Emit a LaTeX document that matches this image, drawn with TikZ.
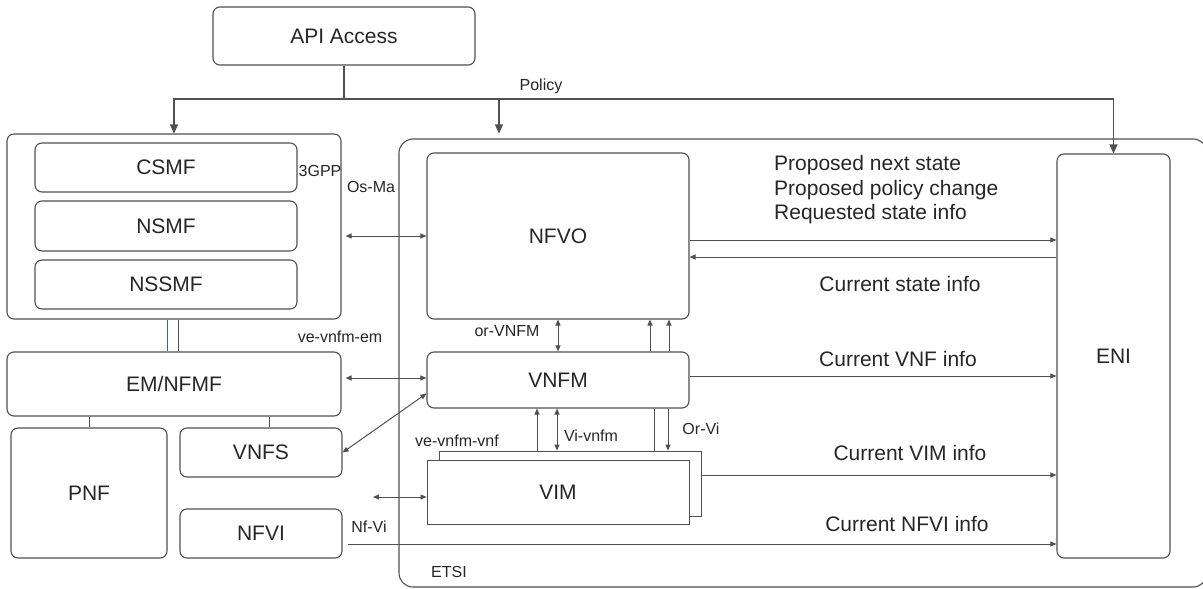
\documentclass[tikz,border=0pt]{standalone}
\usepackage{fontspec}
\setmainfont{Liberation Sans}
\usepackage{tikz}
\usetikzlibrary{arrows.meta,positioning}
\definecolor{linegray}{HTML}{505050}
\definecolor{textgray}{HTML}{262626}
\definecolor{linkblue}{HTML}{2F6EA5}

\begin{document}
\begin{tikzpicture}[
    x=1pt, y=-1pt,
    box/.style={
      draw=linegray, line width=1.1pt, rounded corners=7pt, inner sep=0pt,
      text=textgray, font=\fontsize{21}{25}\selectfont
    },
    flatbox/.style={box, sharp corners, line width=0.8pt, fill=white},
    lbl/.style={inner sep=0pt, text=textgray, font=\fontsize{16}{19}\selectfont},
    info/.style={inner sep=0pt, text=textgray, font=\fontsize{21}{24.5}\selectfont},
    link/.style={draw=linegray, line width=1pt},
    arrow/.style={link, -{Triangle[length=6pt,width=5pt]}},
    biarrow/.style={link, {Triangle[length=6pt,width=5pt]}-{Triangle[length=6pt,width=5pt]}},
    bigarrow/.style={link, line width=1.3pt, -{Triangle[length=9pt,width=8pt]}}
  ]
    \useasboundingbox (0,0) rectangle (1203,589);

    \node[box, minimum width=262pt, minimum height=58pt] (api) at (344,36) {API Access};

    \node[box, minimum width=334pt, minimum height=185pt] (gpp) at (174,226.5) {};
    \node[box, minimum width=262pt, minimum height=49pt] (csmf) at (166,167.5) {CSMF};
    \node[box, minimum width=262pt, minimum height=50pt] (nsmf) at (166,226) {NSMF};
    \node[box, minimum width=262pt, minimum height=49pt] (nssmf) at (166,284.5) {NSSMF};
    \node[box, minimum width=334pt, minimum height=64pt] (em) at (174,384) {EM/NFMF};
    \node[box, minimum width=156pt, minimum height=130pt] (pnf) at (89,493) {PNF};
    \node[box, minimum width=162pt, minimum height=49pt] (vnfs) at (261,452.5) {VNFS};
    \node[box, minimum width=162pt, minimum height=49pt] (nfvi) at (261,533.5) {NFVI};

    \node[box, rounded corners=14pt, minimum width=808pt, minimum height=448pt] (etsi) at (803,363) {};
    \node[box, minimum width=262pt, minimum height=166pt] (nfvo) at (558,236) {NFVO};
    \node[box, minimum width=262pt, minimum height=56pt] (vnfm) at (558,380) {VNFM};
    \node[flatbox, minimum width=262pt, minimum height=65pt] (vimback) at (570,483.5) {};
    \node[flatbox, minimum width=262pt, minimum height=64pt] (vim) at (558,492) {VIM};
    \node[box, minimum width=113pt, minimum height=404pt] (eni) at (1113.5,356) {ENI};

    \node[lbl] (policy) at (541,86) {Policy};
    \node[lbl] (gpplbl) at (320,171) {3GPP};
    \node[lbl] (osma) at (371,187) {Os-Ma};
    \node[lbl] (vevnfmem) at (340,337) {ve-vnfm-em};
    \node[lbl] (orvnfm) at (507,331) {or-VNFM};
    \node[lbl] (vivnfm) at (591,436) {Vi-vnfm};
    \node[lbl] (vevnfmvnf) at (457,441) {ve-vnfm-vnf};
    \node[lbl] (orvi) at (701,429) {Or-Vi};
    \node[lbl] (nfvilbl) at (369,527) {Nf-Vi};
    \node[lbl] (etsilbl) at (449,572) {ETSI};

    \node[info, align=left, anchor=west] (proposed) at (774,190)
      {Proposed next state\\Proposed policy change\\Requested state info};
    \node[info] (curstate) at (900,284) {Current state info};
    \node[info] (curvnf) at (898,359) {Current VNF info};
    \node[info] (curvim) at (910,453) {Current VIM info};
    \node[info] (curnfvi) at (907,524) {Current NFVI info};

    \coordinate (split) at (api.south |- 0,99);
    \coordinate (tap) at (499,99);
    \coordinate (nfvileft) at (373,497);

    \draw[link, line width=1.6pt] (api.south) -- (split);
    \draw[bigarrow] (split) -| (gpp.north);
    \draw[bigarrow] (split) -| (eni.north);
    \draw[bigarrow, shorten >=5pt] (tap) -- (tap |- etsi.north);

    \draw[biarrow, shorten <=4pt] (gpp.east |- nfvo.west) -- (nfvo.west);
    \draw[arrow] ([yshift=-4pt]nfvo.east) -- (eni.west |- 0,240);
    \draw[arrow] (eni.west |- 0,257) -- (nfvo.east |- 0,257);

    \draw[biarrow] (nfvo.south) -- (vnfm.north);
    \draw[arrow] (vnfm.north -| 650,0) -- (nfvo.south -| 650,0);
    \draw[arrow] (vnfm.north -| 669,0) -- (nfvo.south -| 669,0);

    \draw[link, draw=linkblue] (gpp.south -| 167,0) -- (em.north -| 167,0);
    \draw[link] (gpp.south -| 178,0) -- (em.north -| 178,0);
    \draw[link] (pnf.north) -- (pnf.north |- em.south);
    \draw[link] ([xshift=8pt]vnfs.north) -- ([xshift=8pt]vnfs.north |- em.south);

    \draw[biarrow, shorten <=4pt] (em.east |- 0,378) -- (vnfm.west |- 0,378);
    \draw[biarrow] (vnfs.east) -- ([yshift=15pt]vnfm.south west);
    \draw[arrow] ([yshift=4pt]vnfm.east) -- (eni.west |- 0,376);

    \draw[arrow] (vimback.north -| 537,0) -- (vnfm.south -| 537,0);
    \draw[biarrow] (vimback.north -| 557,0) -- (vnfm.south -| 557,0);
    \draw[link] (vnfm.south -| 654,0) -- (vimback.north -| 654,0);
    \draw[arrow] (vnfm.south -| 668,0) -- (vimback.north -| 668,0);

    \draw[arrow] (vimback.east |- 0,475) -- (eni.west |- 0,475);
    \draw[biarrow] (nfvileft) -- (vim.west |- nfvileft);
    \draw[arrow, shorten <=5pt] (nfvi.east |- 0,544) -- (eni.west |- 0,544);
  \end{tikzpicture}
\end{document}
